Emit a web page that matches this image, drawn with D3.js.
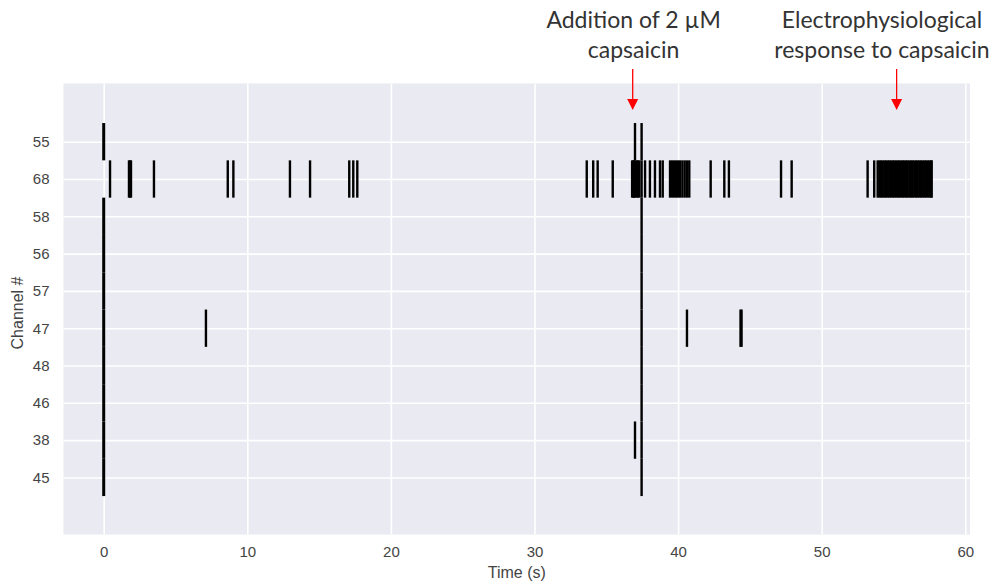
<!DOCTYPE html>
<html><head><meta charset="utf-8">
<script src="https://cdn.jsdelivr.net/npm/d3@7"></script>
<style>body{margin:0;background:#fff}</style>
</head><body><svg id="c" width="995" height="584"></svg>
<script>
// ---- data (spike times in seconds, per channel row, top to bottom) ----
const channels = ["55","68","58","56","57","47","48","46","38","45"];
const ch55 = [0, 37.00, 37.46];
const ch68 = [0.44, 1.76, 1.83, 1.90, 3.50, 8.64, 9.03, 12.97, 14.37, 17.10, 17.38, 17.66,
  33.64, 34.09, 34.40, 35.45, 36.80, 36.88, 36.95, 37.00, 37.12, 37.20, 37.30, 37.46,
  37.70, 38.04, 38.39, 38.74, 38.93, 39.44, 39.58, 39.72, 39.86, 40.00, 40.14, 40.30, 40.46, 40.62, 40.78,
  42.27, 43.22, 43.54, 47.17, 47.91, 53.20, 53.66,
  53.90, 54.02, 54.13, 54.25, 54.37, 54.48, 54.60, 54.71, 54.83, 54.95, 55.06, 55.18,
  55.30, 55.41, 55.53, 55.65, 55.76, 55.88, 55.99, 56.11, 56.23, 56.34, 56.46, 56.58,
  56.69, 56.81, 56.92, 57.04, 57.16, 57.27, 57.39, 57.51, 57.62, 57.66];
const ch58 = [0, 37.46];
const ch56 = [0, 37.46];
const ch57 = [0, 37.46];
const ch47 = [0, 7.12, 37.46, 40.62, 44.35, 44.42];
const ch48 = [0, 37.46];
const ch46 = [0, 37.46];
const ch38 = [0, 37.00, 37.46];
const ch45 = [0, 37.46];
const spikeRows = [ch55, ch68, ch58, ch56, ch57, ch47, ch48, ch46, ch38, ch45];
const xTicks = [0, 10, 20, 30, 40, 50, 60];
const xLabel = "Time (s)";
const yLabel = "Channel #";
const annotations = [
  {text: 36.90, arrow: 36.84, lines: ["Addition of 2 µM", "capsaicin"]},
  {text: 54.20, arrow: 55.22, lines: ["Electrophysiological", "response to capsaicin"]}
];

// ---- layout ----
const svg = d3.select("#c");
const P = {left: 63.5, right: 970, top: 83.5, bottom: 534.5};
const x = d3.scaleLinear().domain([-2.8, 60.33]).range([P.left, P.right]);
const y = d3.scaleLinear().domain([-1.56, 10.53]).range([P.top, P.bottom]);

svg.append("rect").attr("x", P.left).attr("y", P.top)
  .attr("width", P.right - P.left).attr("height", P.bottom - P.top).attr("fill", "#EAEAF2");

const tickFont = "'Liberation Sans', Arial, sans-serif";
const tickColor = "#444";

const gx = svg.append("g").attr("transform", `translate(0,${P.bottom})`)
  .call(d3.axisBottom(x).tickValues(xTicks).tickSize(-(P.bottom - P.top)).tickPadding(12).tickFormat(d3.format("d")));
gx.select(".domain").remove();
gx.selectAll(".tick line").attr("stroke", "#fff").attr("stroke-width", 1.6);
gx.selectAll(".tick text").attr("fill", tickColor).style("font-family", tickFont).style("font-size", "15px");

const gy = svg.append("g").attr("transform", `translate(${P.left},0)`)
  .call(d3.axisLeft(y).tickValues(d3.range(channels.length)).tickFormat(i => channels[i]).tickSize(-(P.right - P.left)).tickPadding(14));
gy.select(".domain").remove();
gy.selectAll(".tick line").attr("stroke", "#fff").attr("stroke-width", 1.6);
gy.selectAll(".tick text").attr("fill", tickColor).style("font-family", tickFont).style("font-size", "15px");

// ---- events ----
const ev = svg.append("g");
spikeRows.forEach((row, i) => {
  ev.selectAll(null).data(row).enter().append("line")
    .attr("x1", d => x(d)).attr("x2", d => x(d))
    .attr("y1", y(i - 0.5)).attr("y2", y(i + 0.5))
    .attr("stroke", "#000").attr("stroke-width", d => d === 0 ? 3 : 2.4);
});

// ---- axis labels ----
svg.append("text").attr("x", (P.left + P.right) / 2).attr("y", 578)
  .attr("text-anchor", "middle").attr("fill", tickColor)
  .style("font-family", tickFont).style("font-size", "16px").text(xLabel);
svg.append("text").attr("transform", `translate(23,${(P.top + P.bottom) / 2 + 4}) rotate(-90)`)
  .attr("text-anchor", "middle").attr("fill", tickColor)
  .style("font-family", tickFont).style("font-size", "16px").text(yLabel);

// ---- annotations ----
annotations.forEach(a => {
  const tx = x(a.text), ax = x(a.arrow);
  const t = svg.append("text").attr("text-anchor", "middle").attr("fill", "#333")
    .style("font-family", "Lato, 'Open Sans', sans-serif").style("font-size", "23px");
  a.lines.forEach((l, k) => t.append("tspan").attr("x", tx).attr("y", 28 + k * 30).text(l));
  svg.append("line").attr("x1", ax).attr("x2", ax).attr("y1", 69).attr("y2", 101)
    .attr("stroke", "#f00").attr("stroke-width", 1.3);
  svg.append("path").attr("d", `M${ax - 5.5},99 L${ax + 5.5},99 L${ax},110 Z`).attr("fill", "#f00");
});
</script>
</body></html>
